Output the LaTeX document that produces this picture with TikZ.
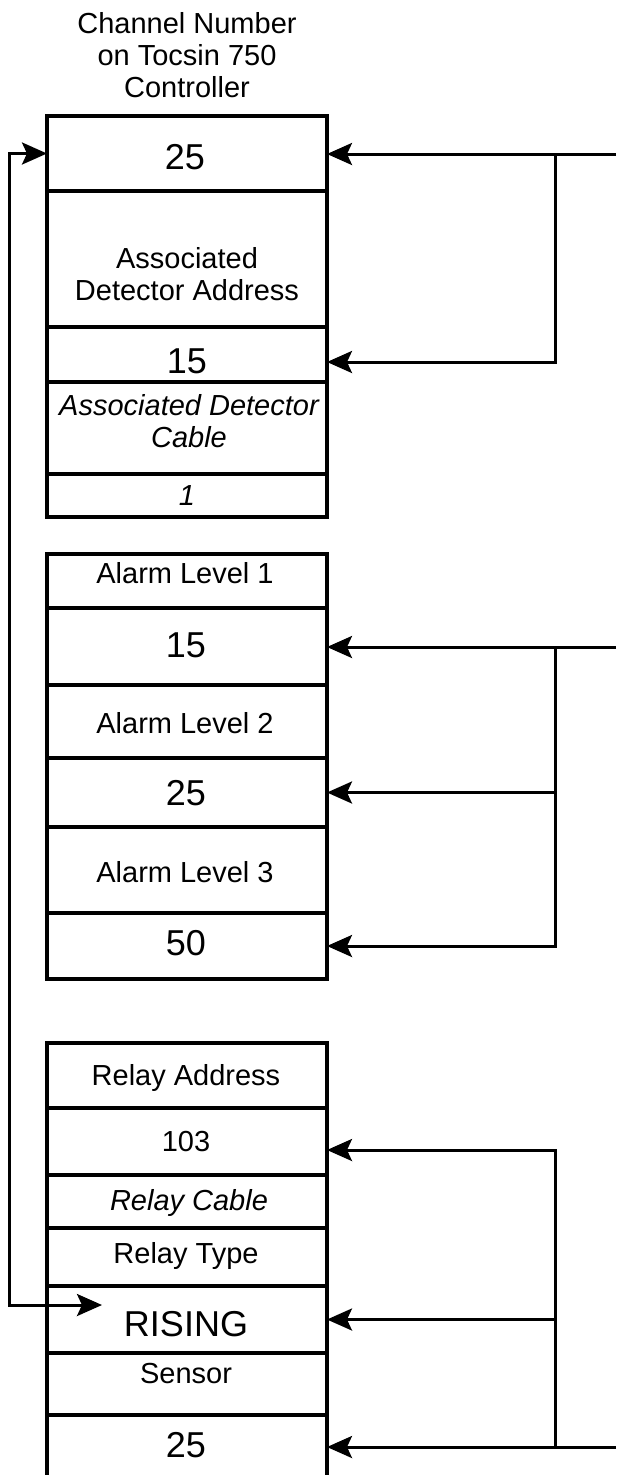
\documentclass[tikz,border=0pt]{standalone}
\usepackage{fontspec}
\setmainfont{Liberation Sans}
\usetikzlibrary{arrows.meta}
\begin{document}
\begin{tikzpicture}[x=1pt,y=-1pt,
  box/.style={draw, line width=3.3pt, minimum width=280pt, inner sep=0pt, outer sep=0pt},
  lbl/.style={anchor=base, inner sep=0pt, font=\fontsize{29}{32}\selectfont},
  ilbl/.style={anchor=base, inner sep=0pt, font=\fontsize{29}{32}\selectfont\itshape},
  num/.style={anchor=base, inner sep=0pt, font=\fontsize{36}{40}\selectfont},
  conn/.style={line width=3pt},
  tip/.tip={Stealth[length=25pt,width=22pt,inset=5pt]},
  arr/.style={conn, -tip}]
\useasboundingbox (0,0) rectangle (616,1475);

% block 1
\node[box, minimum height=75pt]  (r25a) at (187,153.5) {};
\node[box, minimum height=136pt] (rada) at (187,259) {};
\node[box, minimum height=55pt]  (r15a) at (187,354.5) {};
\node[box, minimum height=92pt]  (radc) at (187,428) {};
\node[box, minimum height=43pt]  (r1)   at (187,495.5) {};
% block 2
\node[box, minimum height=54pt] (ral1) at (187,581) {};
\node[box, minimum height=77pt] (r15b) at (187,646.5) {};
\node[box, minimum height=73pt] (ral2) at (187,721.5) {};
\node[box, minimum height=69pt] (r25b) at (187,792.5) {};
\node[box, minimum height=86pt] (ral3) at (187,870) {};
\node[box, minimum height=66pt] (r50)  at (187,946) {};
% block 3
\node[box, minimum height=65pt] (rra)  at (187,1075.5) {};
\node[box, minimum height=67pt] (r103) at (187,1141.5) {};
\node[box, minimum height=53pt] (rrc)  at (187,1201.5) {};
\node[box, minimum height=58pt] (rrt)  at (187,1257) {};
\node[box, minimum height=67pt] (rris) at (187,1319.5) {};
\node[box, minimum height=62pt] (rsen) at (187,1384) {};
\node[minimum width=280pt, minimum height=60pt, inner sep=0pt, outer sep=0pt] (r25c) at (187,1445) {};
\draw[line width=3.3pt] (r25c.south west) -- (r25c.north west) -- (r25c.north east) -- (r25c.south east);

% texts
\node[lbl] (tc1) at (187,33) {Channel Number};
\node[lbl] (tc2) at (187,65) {on Tocsin 750};
\node[lbl] (tc3) at (187,97) {Controller};
\node[num] (t25a) at (185,169) {25};
\node[lbl] (tada1) at (187,268) {Associated};
\node[lbl] (tada2) at (187,300) {Detector Address};
\node[num] (t15a) at (187,373) {15};
\node[ilbl] (tadc1) at (189,415) {Associated Detector};
\node[ilbl] (tadc2) at (189,447) {Cable};
\node[ilbl] (t1) at (187,505) {1};
\node[lbl] (tal1) at (185,583) {Alarm Level 1};
\node[num] (t15b) at (186,657) {15};
\node[lbl] (tal2) at (185,733) {Alarm Level 2};
\node[num] (t25b) at (186,805) {25};
\node[lbl] (tal3) at (185,882) {Alarm Level 3};
\node[num] (t50) at (186,955) {50};
\node[lbl] (tra) at (186,1085) {Relay Address};
\node[lbl] (t103) at (186,1151) {103};
\node[ilbl] (trc) at (189,1210) {Relay Cable};
\node[lbl] (trt) at (186,1263) {Relay Type};
\node[num] (tris) at (186,1336) {RISING};
\node[lbl] (tsen) at (186,1383) {Sensor};
\node[num] (t25c) at (186,1457) {25};

% connectors block 1
\coordinate (in1) at (616,154);
\coordinate (j1) at (555,154);
\draw[conn] (in1) -- (j1);
\draw[arr] (j1) -- (j1 -| r25a.east);
\draw[arr] (j1) |- ([yshift=-7.5pt]r15a.east);
% block 2
\coordinate (in2) at (616,647);
\coordinate (j2) at (555,647);
\draw[conn] (in2) -- (j2);
\draw[arr] (j2) -- (j2 -| r15b.east);
\draw[arr] (j2) |- (r25b.east);
\draw[arr] (j2) |- (r50.east);
% block 3
\coordinate (in3) at (616,1447);
\coordinate (j3) at (555,1447);
\draw[conn] (in3) -- (j3);
\draw[arr] (j3) -- (j3 -| r25c.east);
\draw[arr] (j3) |- (rris.east);
\draw[arr] (j3) |- ([yshift=-8.5pt]r103.east);
% feedback loop
\coordinate (lb) at (9,1305);
\coordinate (ltip) at (102,1305);
\draw[conn, tip-tip] (r25a.west) -| (lb) -- (ltip);
\end{tikzpicture}
\end{document}
